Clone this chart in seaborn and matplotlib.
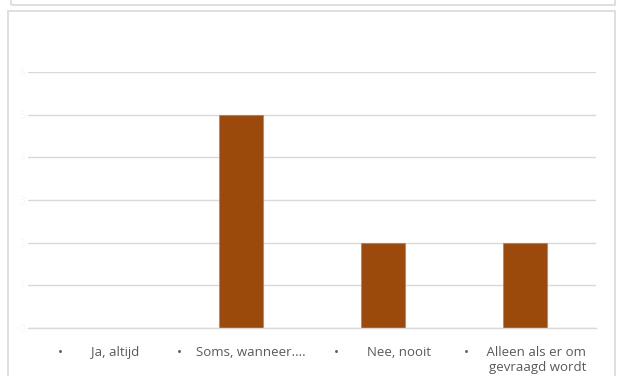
import matplotlib
matplotlib.use("Agg")
import matplotlib.pyplot as plt
from matplotlib.patches import Rectangle
import seaborn as sns
import pandas as pd

categories = ["Ja, altijd", "Soms, wanneer....", "Nee, nooit", "Alleen als er om gevraagd wordt"]
tick_labels = ["•        Ja, altijd", "•    Soms, wanneer....", "•        Nee, nooit",
               "•     Alleen als er om\ngevraagd wordt"]
counts = [0, 5, 2, 2]
y_ticks = [0, 1, 2, 3, 4, 5, 6]

df = pd.DataFrame({"antwoord": categories, "aantal": counts})

sns.set_theme(style="white")
plt.rcParams["font.family"] = ["Open Sans", "DejaVu Sans"]

fig = plt.figure(figsize=(6.22, 3.76), dpi=100)
W, H = 622, 376

# chart frames
frame_col = "#d9d9d9"
fig.add_artist(Rectangle((11 / W, 1 - 5 / H), (615 - 11) / W, 0.2, transform=fig.transFigure,
                         fill=False, edgecolor=frame_col, linewidth=1.2, clip_on=False))
fig.add_artist(Rectangle((8 / W, -0.1), (615 - 8) / W, 1.1 - 11 / H, transform=fig.transFigure,
                         fill=False, edgecolor=frame_col, linewidth=1.2, clip_on=False))

ax = fig.add_axes([28 / W, 1 - 328 / H, (596 - 28) / W, (328 - 72) / H])
sns.barplot(data=df, x="antwoord", y="aantal", color="#9c4a0c", width=0.31,
            saturation=1, ax=ax, edgecolor="#c0703a", linewidth=0.4)

ax.set_ylim(0, 6)
ax.set_yticks(y_ticks)
ax.set_yticklabels([str(v) for v in y_ticks], color="#f6f6f6", fontsize=7)
ax.yaxis.grid(True, color="#d9d9d9", linewidth=1)
ax.set_axisbelow(True)
for s in ["top", "right", "left"]:
    ax.spines[s].set_visible(False)
ax.spines["bottom"].set_color("#d9d9d9")
ax.spines["bottom"].set_linewidth(1)
ax.tick_params(axis="both", length=0)
ax.set_xlabel("")
ax.set_ylabel("")
ax.set_xticks(range(len(categories)))
ax.set_xticklabels(tick_labels, fontsize=9.5, color="#595959", multialignment="right",
                   linespacing=1.2)
ax.tick_params(axis="x", pad=13)
ax.tick_params(axis="y", pad=2)
fig.patch.set_facecolor("white")

fig.savefig("out.png", dpi=100, facecolor="white")
